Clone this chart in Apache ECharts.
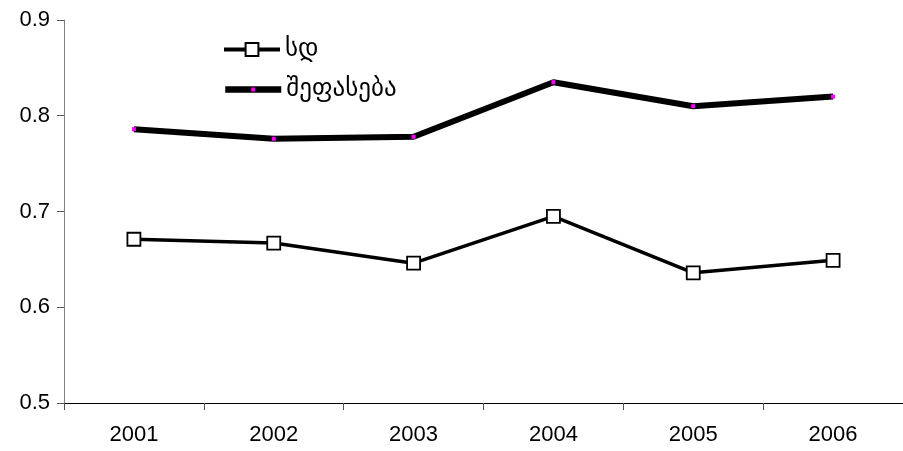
<!DOCTYPE html>
<html>
<head>
<meta charset="utf-8">
<script src="https://cdn.jsdelivr.net/npm/echarts@6/dist/echarts.min.js"></script>
<style>
  html, body { margin: 0; padding: 0; background: #fff; }
  #chart { width: 903px; height: 451px; }
</style>
</head>
<body>
<div id="chart"></div>
<script>
// chart data
var years = ['2001', '2002', '2003', '2004', '2005', '2006']
var sdValues = [0.671, 0.667, 0.646, 0.695, 0.636, 0.649]
var scoreValues = [0.786, 0.776, 0.778, 0.835, 0.810, 0.820]
var seriesNames = ['სდ', 'შეფასება']

var myChart = echarts.init(document.getElementById('chart'))

var legendText = { fontSize: 25, color: '#000', fontFamily: 'DejaVu Sans, Noto Sans, sans-serif' }

var option = {
    animation: false,
    backgroundColor: '#fff',
    textStyle: { fontFamily: 'Liberation Sans, Arial, sans-serif' },
    grid: { left: 64, right: -6, top: 20, bottom: 48 },
    // two legends so each icon can have its own marker size
    legend: [
        {
            left: 217,
            top: 32,
            itemWidth: 56,
            itemHeight: 16,
            itemGap: 6,
            textStyle: legendText,
            data: [{ name: seriesNames[0], lineStyle: { width: 4 } }]
        },
        {
            left: 217,
            top: 72,
            itemWidth: 56,
            itemHeight: 5,
            itemGap: 6,
            textStyle: legendText,
            data: [{ name: seriesNames[1], lineStyle: { width: 6.5 } }]
        }
    ],
    xAxis: {
        type: 'category',
        data: years,
        boundaryGap: true,
        axisLine: { lineStyle: { color: '#000', width: 1 } },
        axisTick: { show: true, length: 7, lineStyle: { color: '#555' } },
        axisLabel: { fontSize: 22, color: '#000', margin: 21 },
        splitLine: { show: false }
    },
    yAxis: {
        type: 'value',
        min: 0.5,
        max: 0.9,
        interval: 0.1,
        axisLine: { show: true, lineStyle: { color: '#808080', width: 1 } },
        axisTick: { show: true, length: 7, lineStyle: { color: '#555' } },
        axisLabel: {
            fontSize: 22,
            color: '#000',
            margin: 14,
            formatter: function (v) { return v.toFixed(1) }
        },
        splitLine: { show: false }
    },
    series: [
        {
            name: seriesNames[0],
            type: 'line',
            data: sdValues,
            symbol: 'rect',
            symbolSize: 13,
            lineStyle: { color: '#000', width: 3.5 },
            itemStyle: { color: '#fff', borderColor: '#000', borderWidth: 1.8 }
        },
        {
            name: seriesNames[1],
            type: 'line',
            data: scoreValues,
            symbol: 'rect',
            symbolSize: 4,
            lineStyle: { color: '#000', width: 6 },
            itemStyle: { color: '#ff00ff', borderWidth: 0 },
            z: 3
        }
    ]
}

myChart.setOption(option)
</script>
</body>
</html>
